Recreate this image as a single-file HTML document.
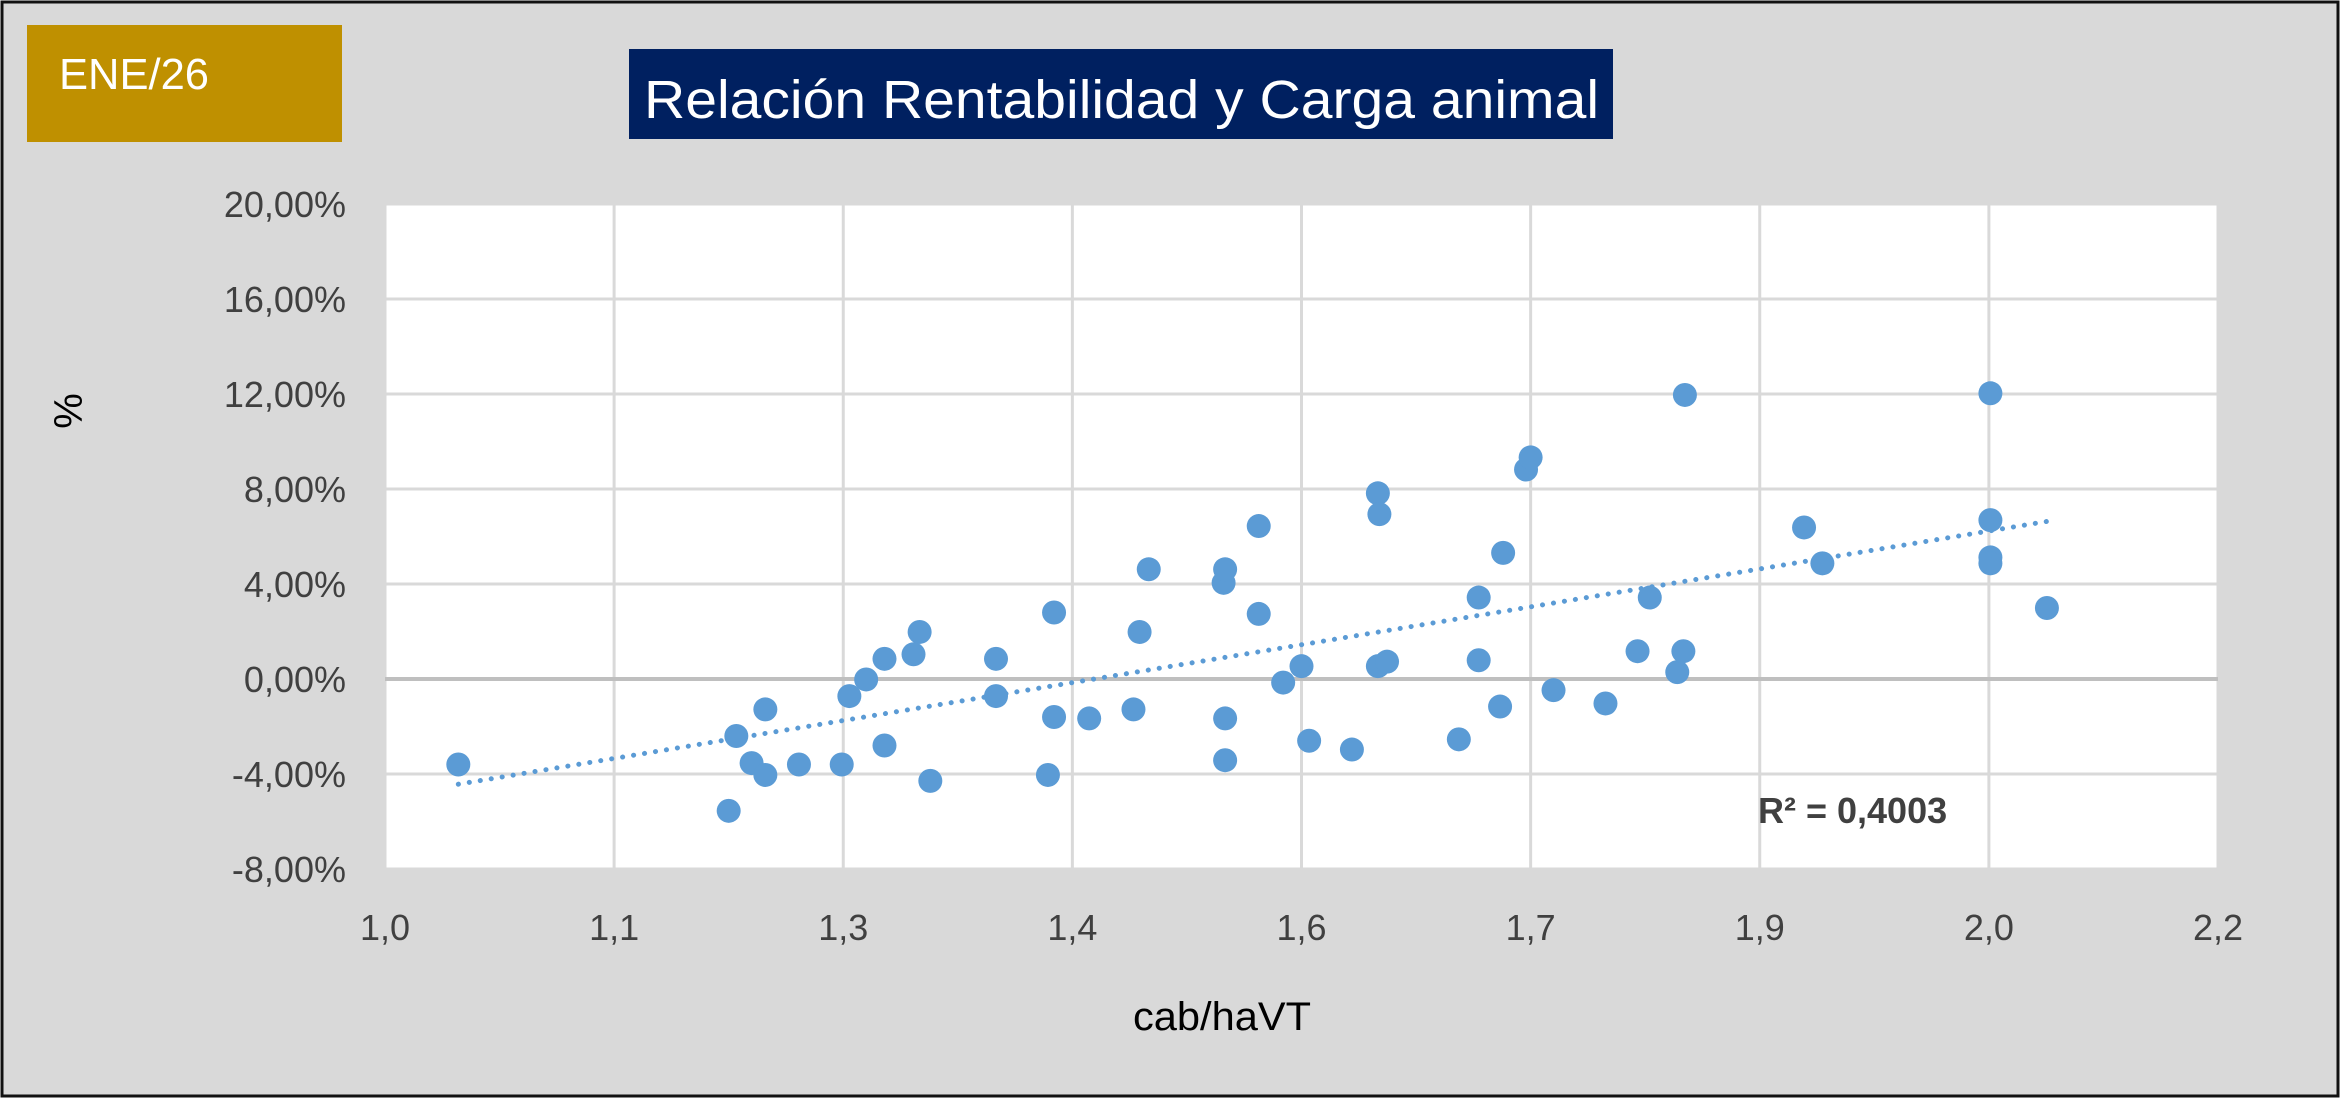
<!DOCTYPE html>
<html><head><meta charset="utf-8"><style>
html,body{margin:0;padding:0;}
body{width:2342px;height:1100px;overflow:hidden;background:#fff;font-family:"Liberation Sans",sans-serif;}
</style></head><body>
<svg id="chart" width="2342" height="1100" xmlns="http://www.w3.org/2000/svg" style="display:block">
<rect x="2" y="2" width="2336" height="1094" fill="#d9d9d9" stroke="#111" stroke-width="3"/>
<rect x="27" y="25" width="315" height="117" fill="#bf9000"/>
<text x="59" y="89" font-size="44" fill="#fff" font-family="Liberation Sans, sans-serif" textLength="150" lengthAdjust="spacingAndGlyphs">ENE/26</text>
<rect x="629" y="49" width="984" height="90" fill="#002060"/>
<text x="644" y="118" font-size="54" fill="#fff" font-family="Liberation Sans, sans-serif" textLength="955" lengthAdjust="spacingAndGlyphs">Relación Rentabilidad y Carga animal</text>
<rect x="385" y="204" width="1833" height="665" fill="#fff"/>
<g id="grid"></g>
<g id="trend"></g>
<g id="points"></g>
<g id="labels"></g>
<text transform="translate(82,411) rotate(-90)" text-anchor="middle" font-size="40" fill="#000">%</text>
<text x="1222" y="1030" text-anchor="middle" font-size="40" fill="#000" textLength="178" lengthAdjust="spacingAndGlyphs">cab/haVT</text>
<text x="1758" y="823" font-size="36" font-weight="bold" fill="#404040">R² = 0,4003</text>
</svg>
<script>
const xVals=[1.048,1.230,1.240,1.249,1.249,1.225,1.271,1.299,1.304,1.315,1.327,1.327,1.346,1.350,1.357,1.400,1.400,1.434,1.438,1.438,1.461,1.490,1.494,1.500,1.549,1.550,1.550,1.550,1.572,1.572,1.588,1.600,1.605,1.633,1.650,1.651,1.650,1.656,1.703,1.716,1.716,1.730,1.732,1.747,1.750,1.765,1.799,1.820,1.828,1.846,1.850,1.851,1.929,1.941,2.051,2.051,2.051,2.051,2.088];
const yVals=[-3.6,-2.4,-3.54,-1.28,-4.04,-5.55,-3.6,-3.6,-0.72,-0.02,0.85,-2.8,1.04,1.98,-4.29,0.85,-0.72,-4.04,2.8,-1.6,-1.66,-1.28,1.98,4.62,4.05,4.62,-1.66,-3.42,6.44,2.74,-0.15,0.54,-2.6,-2.97,7.82,6.94,0.54,0.73,-2.54,3.43,0.79,-1.16,5.31,8.82,9.33,-0.47,-1.03,1.17,3.43,0.29,1.17,11.96,6.38,4.87,12.03,6.69,5.12,4.87,2.99];
const xTickLabels=["1,0","1,1","1,3","1,4","1,6","1,7","1,9","2,0","2,2"];
const yTickLabels=["-8,00%","-4,00%","0,00%","4,00%","8,00%","12,00%","16,00%","20,00%"];
const NS="http://www.w3.org/2000/svg";
const L=385,R=2218,T=204,B=869,XMIN=1.0,XMAX=2.2,YMIN=-8,YMAX=20;
const sx=v=>L+(v-XMIN)/(XMAX-XMIN)*(R-L);
const sy=v=>B-(v-YMIN)/(YMAX-YMIN)*(B-T);
function mk(tag,attrs,parent){const e=document.createElementNS(NS,tag);for(const k in attrs)e.setAttribute(k,attrs[k]);document.getElementById(parent).appendChild(e);return e;}
const xStep=(XMAX-XMIN)/(xTickLabels.length-1), yStep=(YMAX-YMIN)/(yTickLabels.length-1);
xTickLabels.forEach((lab,i)=>{
  const x=sx(XMIN+i*xStep);
  const g=mk('line',{x1:x,x2:x,y1:T,y2:B,stroke:'#d9d9d9','stroke-width':3},'grid');
  
  
  const t=mk('text',{x:x,y:940,'text-anchor':'middle','font-size':36,fill:'#404040'},'labels');
  t.textContent=lab;
  
  
});
yTickLabels.forEach((lab,i)=>{
  const v=YMIN+i*yStep,y=sy(v);
  const zero=Math.abs(v)<1e-9;
  const g=mk('line',{x1:L,x2:R,y1:y,y2:y,stroke:zero?'#bfbfbf':'#d9d9d9','stroke-width':zero?4:3},'grid');
  
  
  const t=mk('text',{x:346,y:y+13,'text-anchor':'end','font-size':36,fill:'#404040'},'labels');
  t.textContent=lab;
  
  
});
const n=xVals.length;let mx=0,my=0;xVals.forEach((v,i)=>{mx+=v;my+=yVals[i];});mx/=n;my/=n;
let sxy=0,sxx=0;xVals.forEach((v,i)=>{sxy+=(v-mx)*(yVals[i]-my);sxx+=(v-mx)*(v-mx);});
const slope=sxy/sxx,icpt=my-slope*mx;
const x0=Math.min(...xVals),x1=Math.max(...xVals);
const tl=mk('line',{x1:sx(x0),y1:sy(icpt+slope*x0),x2:sx(x1),y2:sy(icpt+slope*x1),stroke:'#5b9bd5','stroke-width':5,'stroke-dasharray':'0.1 11','stroke-linecap':'round'},'trend');


xVals.forEach((v,i)=>{
  const c=mk('circle',{cx:sx(v),cy:sy(yVals[i]),r:12,fill:'#5b9bd5'},'points');
  
  
});
</script>
</body></html>
